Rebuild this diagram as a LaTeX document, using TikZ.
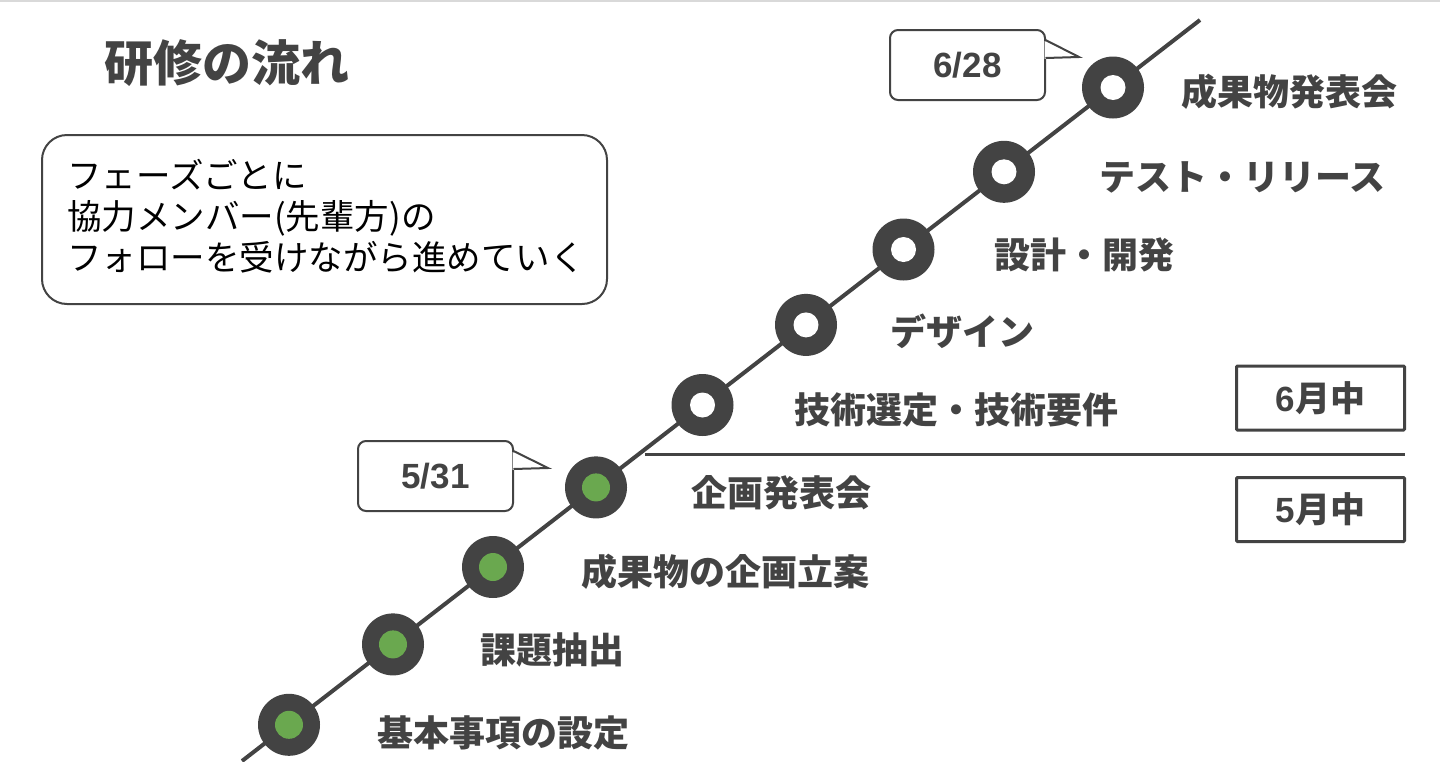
\documentclass[tikz,border=0pt]{standalone}
\usepackage{fontspec}
\newfontfamily\jp{Noto Sans CJK JP}
\newfontfamily\lat{Liberation Sans}
\definecolor{dk}{HTML}{434343}
\definecolor{gr}{HTML}{6AA84F}
\definecolor{topline}{HTML}{D9D9D9}
\tikzset{
  ring/.style={circle, fill=dk, minimum size=62pt, inner sep=0pt},
  greendot/.style={circle, fill=gr, minimum size=28pt, inner sep=0pt},
  hole/.style={circle, fill=white, minimum size=25pt, inner sep=0pt},
  lbl/.style={anchor=west, inner sep=0pt, text=dk, font=\jp\bfseries\fontsize{36}{42}\selectfont},
  datebox/.style={draw=dk, line width=2pt, fill=white, rounded corners=8pt, minimum width=155pt, minimum height=70pt, inner sep=0pt, text=dk, font=\lat\bfseries\fontsize{35}{40}\selectfont},
  monthbox/.style={draw=dk, line width=3pt, rounded corners=1pt, minimum width=168pt, minimum height=64pt, inner sep=0pt, text=dk, font=\jp\bfseries\fontsize{35}{40}\selectfont},
}
\begin{document}
\begin{tikzpicture}[x=1pt,y=-1pt]
\useasboundingbox (0,0) rectangle (1440,761);
\draw[topline, line width=2pt] (0,1) -- (1440,1);

% title
\node[anchor=west, inner sep=0pt, text=dk, font=\jp\bfseries\fontsize{49}{54}\selectfont] (title) at (104,63) {研修の流れ};

% info box
\node[draw=dk, line width=2pt, rounded corners=25pt, minimum width=565pt, minimum height=169pt, inner sep=0pt] (info) at (324.5,219.5) {};
\node[anchor=north west, inner sep=0pt, align=left, text=black, font=\jp\fontsize{34.5}{41}\selectfont] (infotext) at (67,159) {フェーズごとに\\協力メンバー(先輩方)の\\フォローを受けながら進めていく};

% separator
\coordinate (h1) at (645,454);
\coordinate (h2) at (1405,454);
\draw[dk, line width=3pt] (h1) -- (h2);

% month boxes
\node[monthbox] (m6) at (1320.5,398) {{\lat 6}月中};
\node[monthbox] (m5) at (1320.5,509.5) {{\lat 5}月中};

% timeline line
\coordinate (ls) at (242,761);
\coordinate (le) at (1200,20);
\draw[dk, line width=4pt] (ls) -- (le);

% rings
\node[ring] (c1) at (289,724.8) {};
\node[ring] (c2) at (393,644.4) {};
\node[ring] (c3) at (493,567) {};
\node[ring] (c4) at (596,487.4) {};
\node[ring] (c5) at (702.5,405) {};
\node[ring] (c6) at (806,324.9) {};
\node[ring] (c7) at (903.5,249.5) {};
\node[ring] (c8) at (1004,171.8) {};
\node[ring] (c9) at (1113,87.5) {};
\foreach \n in {c1,c2,c3,c4} \node[greendot] at (\n) {};
\foreach \n in {c5,c6,c7,c8,c9} \node[hole] at (\n) {};

% labels
\node[lbl] (l1) at (377,733) {基本事項の設定};
\node[lbl] (l2) at (480,650) {課題抽出};
\node[lbl] (l3) at (581,572) {成果物の企画立案};
\node[lbl] (l4) at (691,493) {企画発表会};
\node[lbl] (l5) at (794,410) {技術選定・技術要件};
\node[lbl] (l6) at (890,331) {デザイン};
\node[lbl] (l7) at (994,255) {設計・開発};
\node[lbl] (l8) at (1099,177) {テスト・リリース};
\node[lbl] (l9) at (1181,92) {成果物発表会};

% callouts
\node[datebox] (d628) at (967.5,65) {6/28};
\coordinate (t628) at (1079,57);
\fill[white] ([xshift=-1.5pt,yshift=-12pt]d628.north east) -- (t628) -- ([xshift=-1.5pt,yshift=-30pt]d628.north east) -- cycle;
\draw[dk, line width=2pt, line join=miter] ([xshift=-0.5pt,yshift=-11pt]d628.north east) -- (t628) -- ([xshift=-0.5pt, yshift=-29pt]d628.north east);

\node[datebox] (d531) at (435.5,476) {5/31};
\coordinate (t531) at (548,468);
\fill[white] ([xshift=-1.5pt,yshift=-12pt]d531.north east) -- (t531) -- ([xshift=-1.5pt,yshift=-30pt]d531.north east) -- cycle;
\draw[dk, line width=2pt, line join=miter] ([xshift=-0.5pt,yshift=-11pt]d531.north east) -- (t531) -- ([xshift=-0.5pt, yshift=-29pt]d531.north east);
\end{tikzpicture}
\end{document}
